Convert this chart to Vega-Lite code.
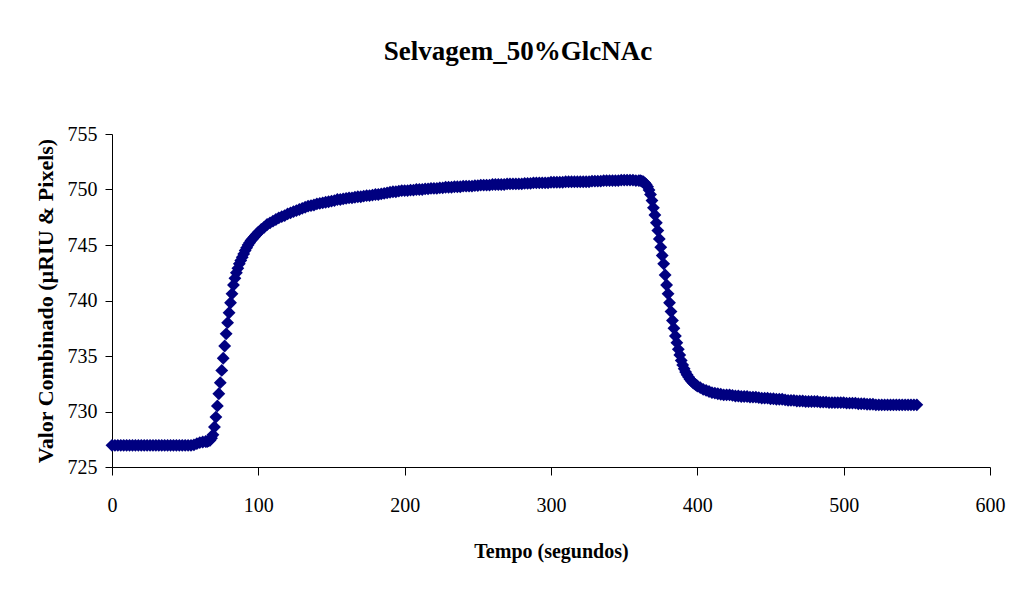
{
  "$schema": "https://vega.github.io/schema/vega-lite/v6.json",
  "autosize": "none",
  "width": 878,
  "height": 333,
  "padding": {"left": 112, "top": 134, "right": 22, "bottom": 123},
  "background": "white",
  "title": {
    "text": "Selvagem_50%GlcNAc",
    "font": "Liberation Serif",
    "fontSize": 27,
    "fontWeight": "bold",
    "color": "black",
    "anchor": "middle",
    "dx": -33,
    "baseline": "alphabetic",
    "offset": 37
  },
  "config": {
    "view": {"stroke": null},
    "axis": {
      "grid": false,
      "domainColor": "black",
      "tickColor": "black",
      "labelColor": "black",
      "titleColor": "black",
      "labelFont": "Liberation Serif",
      "titleFont": "Liberation Serif",
      "labelFontSize": 20,
      "titleFontSize": 20,
      "titleFontWeight": "bold"
    }
  },
  "data": {"values": [
    {"t":0,"v":726.95},{"t":2,"v":726.95},{"t":4,"v":726.95},{"t":6,"v":726.95},{"t":8,"v":726.95},{"t":10,"v":726.95},{"t":12,"v":726.95},{"t":14,"v":726.95},{"t":16,"v":726.95},{"t":18,"v":726.95},
    {"t":20,"v":726.95},{"t":22,"v":726.95},{"t":24,"v":726.95},{"t":26,"v":726.95},{"t":28,"v":726.95},{"t":30,"v":726.95},{"t":32,"v":726.95},{"t":34,"v":726.95},{"t":36,"v":726.95},{"t":38,"v":726.95},
    {"t":40,"v":726.95},{"t":42,"v":726.95},{"t":44,"v":726.95},{"t":46,"v":726.95},{"t":48,"v":726.95},{"t":50,"v":726.95},{"t":52,"v":726.95},{"t":54,"v":726.95},{"t":56,"v":727.0},{"t":58,"v":727.1},
    {"t":60,"v":727.2},{"t":62,"v":727.25},{"t":64,"v":727.3},{"t":65,"v":727.3},{"t":66,"v":727.35},{"t":67,"v":727.4},{"t":68,"v":727.6},{"t":69,"v":727.9},
    {"t":70,"v":728.6},{"t":71,"v":729.5},{"t":72,"v":730.5},{"t":73,"v":731.6},{"t":74,"v":732.6},{"t":75,"v":733.7},{"t":76,"v":734.8},{"t":77,"v":735.9},{"t":78,"v":737.0},{"t":79,"v":738.0},
    {"t":80,"v":738.9},{"t":81,"v":739.8},{"t":82,"v":740.6},{"t":83,"v":741.4},{"t":84,"v":742.0},{"t":85,"v":742.5},{"t":86,"v":742.9},{"t":87,"v":743.3},{"t":88,"v":743.6},{"t":89,"v":743.9},
    {"t":90,"v":744.2},{"t":91,"v":744.5},{"t":92,"v":744.75},{"t":93,"v":745.0},{"t":94,"v":745.2},{"t":95,"v":745.4},{"t":96,"v":745.55},{"t":97,"v":745.7},{"t":98,"v":745.85},{"t":99,"v":746.0},{"t":100,"v":746.15},
    {"t":102,"v":746.4},{"t":104,"v":746.6},{"t":106,"v":746.85},{"t":108,"v":747.0},{"t":110,"v":747.15},{"t":112,"v":747.3},{"t":114,"v":747.45},{"t":116,"v":747.55},{"t":118,"v":747.65},{"t":120,"v":747.8},
    {"t":122,"v":747.9},{"t":124,"v":748.0},{"t":126,"v":748.1},{"t":128,"v":748.2},{"t":130,"v":748.3},{"t":132,"v":748.4},{"t":134,"v":748.5},{"t":136,"v":748.55},{"t":138,"v":748.6},{"t":140,"v":748.7},
    {"t":142,"v":748.75},{"t":144,"v":748.8},{"t":146,"v":748.85},{"t":148,"v":748.9},{"t":150,"v":748.95},{"t":152,"v":749.0},{"t":154,"v":749.1},{"t":156,"v":749.1},{"t":158,"v":749.15},{"t":160,"v":749.2},
    {"t":162,"v":749.25},{"t":164,"v":749.25},{"t":166,"v":749.3},{"t":168,"v":749.35},{"t":170,"v":749.35},{"t":172,"v":749.4},{"t":174,"v":749.45},{"t":176,"v":749.45},{"t":178,"v":749.5},{"t":180,"v":749.55},
    {"t":182,"v":749.55},{"t":184,"v":749.6},{"t":186,"v":749.65},{"t":188,"v":749.7},{"t":190,"v":749.75},{"t":192,"v":749.8},{"t":194,"v":749.8},{"t":196,"v":749.85},{"t":198,"v":749.9},{"t":200,"v":749.9},
    {"t":202,"v":749.9},{"t":204,"v":749.95},{"t":206,"v":749.95},{"t":208,"v":750.0},{"t":210,"v":750.0},{"t":212,"v":750.0},{"t":214,"v":750.05},{"t":216,"v":750.05},{"t":218,"v":750.1},{"t":220,"v":750.1},
    {"t":222,"v":750.1},{"t":224,"v":750.15},{"t":226,"v":750.15},{"t":228,"v":750.2},{"t":230,"v":750.2},{"t":232,"v":750.2},{"t":234,"v":750.25},{"t":236,"v":750.25},{"t":238,"v":750.25},{"t":240,"v":750.3},
    {"t":242,"v":750.3},{"t":244,"v":750.3},{"t":246,"v":750.3},{"t":248,"v":750.35},{"t":250,"v":750.35},{"t":252,"v":750.4},{"t":254,"v":750.4},{"t":256,"v":750.4},{"t":258,"v":750.4},{"t":260,"v":750.45},
    {"t":262,"v":750.45},{"t":264,"v":750.45},{"t":266,"v":750.45},{"t":268,"v":750.45},{"t":270,"v":750.5},{"t":272,"v":750.5},{"t":274,"v":750.5},{"t":276,"v":750.5},{"t":278,"v":750.5},{"t":280,"v":750.5},
    {"t":282,"v":750.55},{"t":284,"v":750.55},{"t":286,"v":750.55},{"t":288,"v":750.6},{"t":290,"v":750.6},{"t":292,"v":750.6},{"t":294,"v":750.6},{"t":296,"v":750.6},{"t":298,"v":750.6},{"t":300,"v":750.65},
    {"t":302,"v":750.65},{"t":304,"v":750.65},{"t":306,"v":750.65},{"t":308,"v":750.65},{"t":310,"v":750.7},{"t":312,"v":750.7},{"t":314,"v":750.7},{"t":316,"v":750.7},{"t":318,"v":750.7},{"t":320,"v":750.7},
    {"t":322,"v":750.7},{"t":324,"v":750.7},{"t":326,"v":750.7},{"t":328,"v":750.75},{"t":330,"v":750.75},{"t":332,"v":750.75},{"t":334,"v":750.75},{"t":336,"v":750.8},{"t":338,"v":750.8},{"t":340,"v":750.8},
    {"t":342,"v":750.8},{"t":344,"v":750.8},{"t":346,"v":750.8},{"t":348,"v":750.85},{"t":350,"v":750.85},{"t":352,"v":750.85},{"t":354,"v":750.85},{"t":356,"v":750.85},{"t":358,"v":750.8},{"t":360,"v":750.8},
    {"t":361,"v":750.8},{"t":362,"v":750.75},{"t":363,"v":750.7},{"t":364,"v":750.6},{"t":365,"v":750.45},{"t":366,"v":750.25},{"t":367,"v":749.95},{"t":368,"v":749.55},{"t":369,"v":749.0},
    {"t":370,"v":748.35},{"t":371,"v":747.7},{"t":372,"v":747.0},{"t":373,"v":746.3},{"t":374,"v":745.55},{"t":375,"v":744.8},{"t":376,"v":744.05},{"t":377,"v":743.3},{"t":378,"v":742.3},{"t":379,"v":741.4},
    {"t":380,"v":740.6},{"t":381,"v":739.8},{"t":382,"v":739.0},{"t":383,"v":738.2},{"t":384,"v":737.5},{"t":385,"v":736.8},{"t":386,"v":736.2},{"t":387,"v":735.6},{"t":388,"v":735.1},{"t":389,"v":734.6},
    {"t":390,"v":734.2},{"t":391,"v":733.85},{"t":392,"v":733.55},{"t":393,"v":733.3},{"t":394,"v":733.1},{"t":395,"v":732.9},{"t":396,"v":732.75},{"t":397,"v":732.6},{"t":398,"v":732.5},{"t":399,"v":732.4},{"t":400,"v":732.3},
    {"t":402,"v":732.15},{"t":404,"v":732.0},{"t":406,"v":731.9},{"t":408,"v":731.8},{"t":410,"v":731.7},{"t":412,"v":731.65},{"t":414,"v":731.6},{"t":416,"v":731.55},{"t":418,"v":731.5},{"t":420,"v":731.5},
    {"t":422,"v":731.5},{"t":424,"v":731.45},{"t":426,"v":731.4},{"t":428,"v":731.4},{"t":430,"v":731.35},{"t":432,"v":731.35},{"t":434,"v":731.35},{"t":436,"v":731.3},{"t":438,"v":731.3},{"t":440,"v":731.3},
    {"t":442,"v":731.25},{"t":444,"v":731.2},{"t":446,"v":731.2},{"t":448,"v":731.2},{"t":450,"v":731.15},{"t":452,"v":731.15},{"t":454,"v":731.1},{"t":456,"v":731.1},{"t":458,"v":731.1},{"t":460,"v":731.05},
    {"t":462,"v":731.0},{"t":464,"v":731.0},{"t":466,"v":731.0},{"t":468,"v":730.95},{"t":470,"v":730.95},{"t":472,"v":730.95},{"t":474,"v":730.9},{"t":476,"v":730.9},{"t":478,"v":730.9},{"t":480,"v":730.9},
    {"t":482,"v":730.9},{"t":484,"v":730.85},{"t":486,"v":730.85},{"t":488,"v":730.85},{"t":490,"v":730.8},{"t":492,"v":730.8},{"t":494,"v":730.8},{"t":496,"v":730.8},{"t":498,"v":730.8},{"t":500,"v":730.8},
    {"t":502,"v":730.75},{"t":504,"v":730.75},{"t":506,"v":730.75},{"t":508,"v":730.75},{"t":510,"v":730.7},{"t":512,"v":730.7},{"t":514,"v":730.7},{"t":516,"v":730.65},{"t":518,"v":730.65},{"t":520,"v":730.65},
    {"t":522,"v":730.6},{"t":524,"v":730.6},{"t":526,"v":730.6},{"t":528,"v":730.6},{"t":530,"v":730.6},{"t":532,"v":730.6},{"t":534,"v":730.6},{"t":536,"v":730.6},{"t":538,"v":730.6},{"t":540,"v":730.6},
    {"t":542,"v":730.6},{"t":544,"v":730.6},{"t":546,"v":730.6},{"t":548,"v":730.6},{"t":550,"v":730.6}
  ]},
  "mark": {"type": "point", "shape": "diamond", "filled": true, "size": 165, "color": "#000080", "opacity": 1},
  "encoding": {
    "x": {
      "field": "t", "type": "quantitative",
      "scale": {"domain": [0, 600], "nice": false, "zero": false},
      "axis": {"values": [0, 100, 200, 300, 400, 500, 600], "tickSize": 8, "labelPadding": 20, "title": "Tempo (segundos)", "titlePadding": 26, "labelFlush": false}
    },
    "y": {
      "field": "v", "type": "quantitative",
      "scale": {"domain": [725, 755], "nice": false, "zero": false},
      "axis": {"values": [725, 730, 735, 740, 745, 750, 755], "tickSize": 7, "labelPadding": 8, "title": "Valor Combinado (µRIU & Pixels)", "titleFontSize": 22, "titlePadding": 10, "labelFlush": false}
    }
  }
}
